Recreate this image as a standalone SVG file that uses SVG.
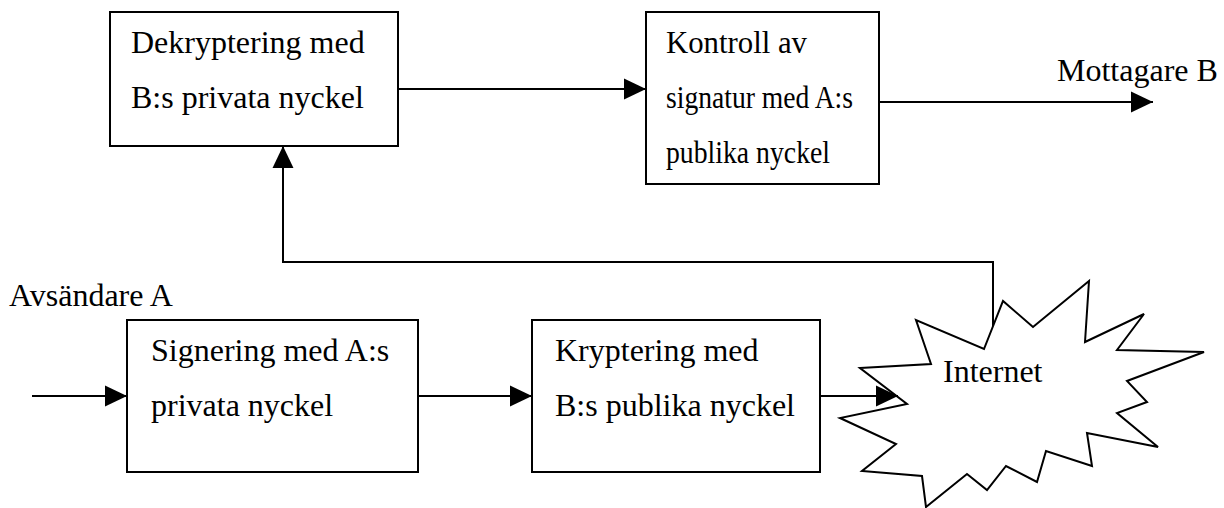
<svg xmlns="http://www.w3.org/2000/svg" width="1224" height="508" viewBox="0 0 1224 508">
  <style>
    .box { fill: #ffffff; stroke: #000000; stroke-width: 2; }
    .lbl { font-family: "Liberation Serif", "Times New Roman", serif; font-size: 32px; fill: #000000; }
    .wire { fill: none; stroke: #000000; stroke-width: 2; }
    .burst { fill: #ffffff; stroke: #000000; stroke-width: 2; stroke-linejoin: miter; }
  </style>
  <defs>
    <marker id="head" markerUnits="userSpaceOnUse" markerWidth="22" markerHeight="22" viewBox="0 0 21 20" refX="21" refY="10" orient="auto">
      <polygon points="0,0 21,10 0,20" fill="#000000"/>
    </marker>
  </defs>
  <rect width="1224" height="508" fill="#ffffff"/>

  <!-- free-standing labels -->
  <text class="lbl" x="1057" y="81">Mottagare B</text>
  <text class="lbl" x="9" y="306">Avsändare A</text>

  <!-- return path from the network back to the receiver -->
  <g id="connectors-back">
    <polyline class="wire" points="993,330 993,262 283,262 283,146" marker-end="url(#head)"/>
  </g>

  <!-- network cloud -->
  <g id="internet">
    <polygon class="burst" points="860,368 931,364 916,320 984,349 1003,301 1033,327 1089,281 1085,342 1144,314 1117,350 1204,352 1127,381 1147,402 1117,413 1158,447 1087,433 1092,466 1046,451 1037,482 1006,466 987,490 967,474 926,507 922,476 862,471 896,444 840,418 907,404"/>
    <text class="lbl" x="943" y="382">Internet</text>
  </g>

  <g id="dekryptering">
    <rect class="box" x="110" y="12" width="288" height="134"/>
    <text class="lbl" x="131" y="53">Dekryptering med</text>
    <text class="lbl" x="131" y="108">B:s privata nyckel</text>
  </g>

  <!-- narrow box: lines are set condensed to fit -->
  <g id="kontroll">
    <rect class="box" x="646" y="12" width="233" height="172"/>
    <text class="lbl" x="666" y="53" textLength="141" lengthAdjust="spacingAndGlyphs">Kontroll av</text>
    <text class="lbl" x="666" y="108" textLength="187" lengthAdjust="spacingAndGlyphs">signatur med A:s</text>
    <text class="lbl" x="666" y="163" textLength="164" lengthAdjust="spacingAndGlyphs">publika nyckel</text>
  </g>

  <g id="signering">
    <rect class="box" x="127" y="320" width="291" height="152"/>
    <text class="lbl" x="151" y="361">Signering med A:s</text>
    <text class="lbl" x="151" y="416">privata nyckel</text>
  </g>

  <g id="kryptering">
    <rect class="box" x="532" y="320" width="288" height="152"/>
    <text class="lbl" x="555" y="361">Kryptering med</text>
    <text class="lbl" x="555" y="416">B:s publika nyckel</text>
  </g>

  <!-- forward flow arrows -->
  <g id="connectors">
    <line class="wire" x1="398" y1="89" x2="646" y2="89" marker-end="url(#head)"/>
    <line class="wire" x1="879" y1="102" x2="1153" y2="102" marker-end="url(#head)"/>
    <line class="wire" x1="32" y1="396" x2="127" y2="396" marker-end="url(#head)"/>
    <line class="wire" x1="418" y1="396" x2="532" y2="396" marker-end="url(#head)"/>
    <line class="wire" x1="820" y1="396" x2="898" y2="396" marker-end="url(#head)"/>
  </g>
</svg>
